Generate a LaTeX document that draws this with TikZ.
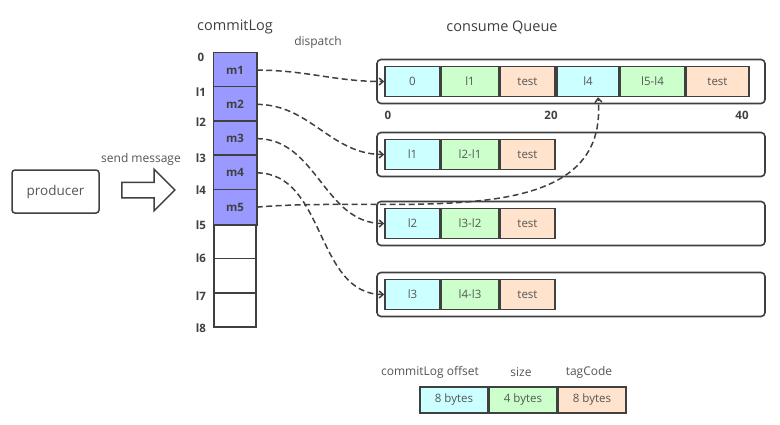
\documentclass[tikz,border=0pt]{standalone}
\usepackage{fontspec}
\setmainfont{Open Sans}
\usetikzlibrary{shapes.arrows,arrows.meta}
\definecolor{qcyan}{HTML}{CCFFFF}
\definecolor{qgreen}{HTML}{CCFFCC}
\definecolor{qpeach}{HTML}{FFE3CC}
\definecolor{msgblue}{HTML}{9999FF}
\definecolor{edge}{HTML}{404040}
\definecolor{txt}{HTML}{555555}
\tikzset{
  cell/.style={draw=edge, line width=1.5pt, minimum height=30pt, inner sep=0pt, font=\fontsize{11.5}{13}\selectfont, text=txt},
  logcell/.style={draw=edge, line width=1.5pt, minimum width=42pt, minimum height=34.25pt, inner sep=0pt},
  rowbox/.style={draw=edge, line width=1.6pt, rounded corners=4pt, minimum width=388pt, minimum height=44pt, inner sep=0pt},
  offs/.style={font=\bfseries\fontsize{11.5}{13}\selectfont, text=edge, inner sep=0pt},
  note/.style={font=\fontsize{12}{14}\selectfont, text=txt, inner sep=0pt},
  dispatchline/.style={dash pattern=on 6pt off 3.5pt, line width=1.5pt, draw=edge, -{Straight Barb[length=4pt,width=7pt]}},
}
\begin{document}
\begin{tikzpicture}[x=1pt,y=-1pt]
\useasboundingbox[fill=white] (0,0) rectangle (780,424);
% titles
\node[font=\fontsize{14.5}{16}\selectfont, text=edge] (logtitle) at (235,27) {commitLog};
\node[font=\fontsize{14.5}{16}\selectfont, text=edge] (qtitle) at (502,27) {consume Queue};
\node[note] (dispatch) at (318,42) {dispatch};
\node[note] (sendmsg) at (141,159) {send message};
% producer
\node[draw=edge, line width=1.5pt, rounded corners=3pt, minimum width=87pt, minimum height=43pt, font=\fontsize{13.5}{15}\selectfont, text=txt] (producer) at (55.5,191.5) {producer};
\node[single arrow, draw=edge, line width=1.5pt, minimum height=53pt, inner sep=7pt, single arrow head extend=13pt] (sendarrow) at (144.5,190) {};
% commitLog column
\foreach \i in {1,...,8}
  \node[logcell] (c\i) at (235,{53+34.25*(\i-0.5)}) {};
\foreach \i in {1,...,5}
  \path[fill=msgblue, draw=edge, line width=1.5pt] (c\i.north west) rectangle (c\i.south east) node[pos=.5, font=\bfseries\fontsize{11.5}{13}\selectfont, text=edge] (m\i) {m\i};
\foreach \t/\y in {0/57,l1/92,l2/122,l3/158,l4/190,l5/225,l6/258,l7/296,l8/328}
  \node[offs] (o\t) at (201,\y) {\t};
% consume queue rows
\foreach \r/\y in {1/81.5,2/154.5,3/223.5,4/294.5}
  \node[rowbox] (row\r) at (571,\y) {};
\node[cell, fill=qcyan, minimum width=55pt] (q1a) at (412.5,81.5) {0};
\node[cell, fill=qgreen, minimum width=57pt, anchor=west] (q1b) at (q1a.east) {l1};
\node[cell, fill=qpeach, minimum width=55pt, anchor=west] (q1c) at (q1b.east) {test};
\node[cell, fill=qcyan, minimum width=62pt] (q1d) at (588,81.5) {l4};
\node[cell, fill=qgreen, minimum width=64pt, anchor=west] (q1e) at (q1d.east) {l5-l4};
\node[cell, fill=qpeach, minimum width=63pt, anchor=west] (q1f) at (q1e.east) {test};
\foreach \r/\y/\a/\b in {2/154.5/l1/l2-l1,3/223.5/l2/l3-l2,4/294.5/l3/l4-l3}{
  \node[cell, fill=qcyan, minimum width=55pt] (q\r a) at (412.5,\y) {\a};
  \node[cell, fill=qgreen, minimum width=57pt, anchor=west] (q\r b) at (q\r a.east) {\b};
  \node[cell, fill=qpeach, minimum width=55pt, anchor=west] (q\r c) at (q\r b.east) {test};
}
\node[offs] (p0) at (388,115) {0};
\node[offs] (p20) at (551,115) {20};
\node[offs] (p40) at (742,115) {40};
% dispatch arrows
\draw[dispatchline] (m1.east -| c1.east) to[out=0,in=180] (q1a.west);
\draw[dispatchline] (m2.east -| c2.east) to[out=0,in=180] (q2a.west);
\draw[dispatchline] (m3.east -| c3.east) to[out=0,in=180] (q3a.west);
\draw[dispatchline] (m4.east -| c4.east) to[out=0,in=180] (q4a.west);
\draw[dispatchline] (m5.east -| c5.east) to[out=5,in=-85] ([xshift=10pt]q1d.south);
% legend
\node[cell, fill=qcyan, minimum width=68pt, minimum height=26pt] (lga) at (454,400) {8 bytes};
\node[cell, fill=qgreen, minimum width=67pt, minimum height=26pt, anchor=west] (lgb) at (lga.east) {4 bytes};
\node[cell, fill=qpeach, minimum width=68pt, minimum height=26pt, anchor=west] (lgc) at (lgb.east) {8 bytes};
\node[note] (lhoff) at (430,372) {commitLog offset};
\node[note] (lhsize) at (521,372) {size};
\node[note] (lhtag) at (589,372) {tagCode};
\end{tikzpicture}
\end{document}
